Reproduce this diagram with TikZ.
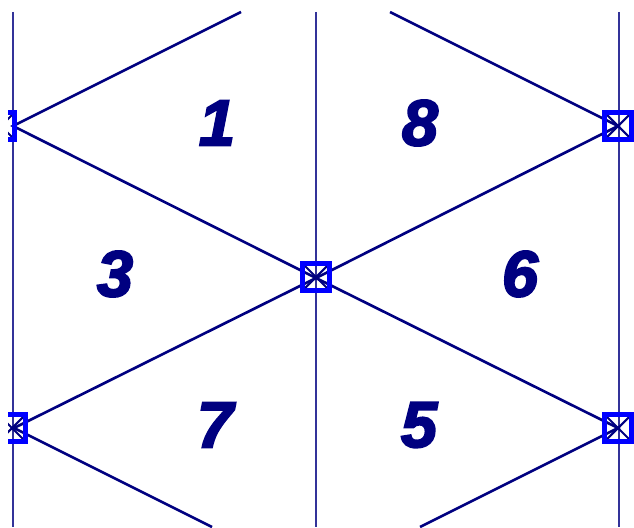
\documentclass[tikz,border=0pt]{standalone}
\usepackage{fontspec}
\setmainfont{Liberation Sans}
\newfontfamily\numfont{Liberation Sans Bold Italic}[FakeBold=3]
\usetikzlibrary{positioning}
\definecolor{navy}{RGB}{0,0,128}
\definecolor{pureblue}{RGB}{0,0,255}

\begin{document}
\begin{tikzpicture}[
    x=0.02cm,
    y=-0.02cm,
    beam/.style={
        line width=1.5pt,
        color=navy
    },
    post/.style={
        line width=1pt,
        color=navy!80!white
    },
    joint/.style={
        rectangle,
        draw=pureblue,
        line width=3pt,
        minimum size=0.53cm,
        inner sep=0pt,
        path picture={
            \draw[navy, line width=1.2pt]
                (path picture bounding box.south west) -- (path picture bounding box.north east)
                (path picture bounding box.north west) -- (path picture bounding box.south east);
        }
    },
    num/.style={
        font=\numfont\fontsize{37}{40}\selectfont,
        color=navy
    }
]
    \useasboundingbox (0,0) rectangle (634,527);
    \clip (8,0) rectangle (634,527);

    % -- Junctions and free ends --
    \coordinate (jtl) at (13,126);
    \coordinate (jtr) at (618,126);
    \coordinate (jc) at (316,278);
    \coordinate (jbl) at (14,428);
    \coordinate (jbr) at (618,428);
    \coordinate (topl) at (241,12);
    \coordinate (topr) at (390,12);
    \coordinate (botl) at (212,527);
    \coordinate (botr) at (420,527);

    % -- Vertical posts --
    \coordinate (pl0) at (13,12);
    \coordinate (pl1) at (13,527);
    \coordinate (pc0) at (316,12);
    \coordinate (pc1) at (316,527);
    \coordinate (pr0) at (619,12);
    \coordinate (pr1) at (619,527);
    \draw[post] (pl0) -- (pl1);
    \draw[post] (pc0) -- (pc1);
    \draw[post] (pr0) -- (pr1);

    % -- Diagonal members --
    \draw[beam] (topl) -- (jtl) -- (jc) -- (jtr) -- (topr);
    \draw[beam] (botl) -- (jbl) -- (jc) -- (jbr) -- (botr);

    % -- Joint markers --
    \node[joint] (sq_tl) at (1,126) {};
    \node[joint] (sq_bl) at (12,428) {};
    \node[joint] (sq_c) at (316,277) {};
    \node[joint] (sq_tr) at (618,126) {};
    \node[joint] (sq_br) at (618,428) {};

    % -- Panel numbers --
    \node[num] (n1) at (217,123) {1};
    \node[num] (n8) at (420,123) {8};
    \node[num] (n3) at (115,274) {3};
    \node[num] (n6) at (520,274) {6};
    \node[num] (n7) at (215,425) {7};
    \node[num] (n5) at (419,425) {5};
\end{tikzpicture}
\end{document}
